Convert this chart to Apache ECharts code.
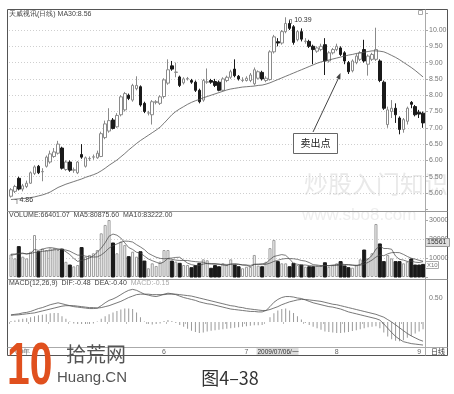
<!DOCTYPE html>
<html><head><meta charset="utf-8">
<script src="https://cdn.jsdelivr.net/npm/echarts/dist/echarts.min.js"></script>
<style>html,body{margin:0;padding:0;background:#fff}#c{width:454px;height:394px}</style>
</head><body><div id="c"></div>
<script>
// ---------- data ----------
const openP  = [4.90,5.05,5.45,5.12,5.20,5.30,5.60,5.82,5.65,5.82,5.95,6.12,6.22,6.38,5.72,5.95,5.70,5.62,6.18,5.82,6.05,6.10,6.08,6.12,6.70,6.90,7.24,7.03,7.40,7.55,8.00,7.85,8.20,8.26,7.75,7.45,7.40,7.78,7.75,7.96,8.37,8.90,8.70,8.56,8.38,8.50,8.45,8.40,8.15,7.85,8.40,8.45,8.42,8.40,8.15,8.45,8.55,8.80,8.58,8.45,8.45,8.45,8.35,8.52,8.70,8.45,8.48,9.33,9.64,9.60,9.95,10.20,10.10,9.70,9.95,9.65,9.65,9.50,9.35,9.40,9.55,9.05,9.30,9.40,9.45,9.30,9.00,8.75,9.00,9.10,9.40,8.95,9.10,9.10,9.05,8.40,7.10,7.50,7.60,7.30,6.95,7.20,7.78,7.65,7.48,7.45];
const closeP = [5.10,5.20,5.12,5.22,5.30,5.62,5.80,5.62,5.66,6.10,6.20,6.26,6.50,5.76,5.95,5.70,5.71,5.95,6.10,6.08,6.06,6.11,6.22,6.82,7.12,7.22,6.98,7.38,7.95,8.05,7.90,8.30,8.30,7.70,7.50,7.46,7.80,7.80,7.95,8.47,8.78,8.80,8.71,8.30,8.50,8.51,8.40,8.15,7.80,8.45,8.41,8.40,8.30,8.15,8.50,8.55,8.72,8.60,8.50,8.46,8.52,8.62,8.78,8.72,8.50,8.52,9.33,9.79,9.60,9.95,10.20,10.05,9.62,9.95,9.72,9.66,9.50,9.40,9.45,9.50,9.05,9.30,9.40,9.50,9.25,9.05,8.72,9.05,9.20,9.30,9.05,9.20,9.25,9.40,8.45,7.60,7.55,7.60,7.40,6.95,7.25,7.60,7.72,7.40,7.42,7.15];
const lowP   = [4.86,5.00,5.08,5.05,5.15,5.28,5.55,5.58,5.36,5.78,5.90,6.08,6.18,5.72,5.68,5.65,5.62,5.58,6.05,5.78,5.98,6.02,6.05,6.10,6.65,6.85,6.95,7.00,7.35,7.50,7.85,7.80,8.15,7.65,7.45,7.38,7.10,7.72,7.70,7.90,8.32,8.75,8.55,8.25,8.33,8.45,8.35,8.10,7.75,7.80,8.35,8.35,8.25,8.12,8.12,8.40,8.50,8.55,8.45,8.40,8.42,8.40,8.30,8.48,8.45,8.40,8.45,9.28,9.50,9.55,9.90,10.00,9.55,9.65,9.65,9.58,9.45,8.95,9.30,9.35,8.62,9.00,9.25,9.35,9.20,8.95,8.65,8.70,8.95,9.05,9.00,8.60,9.05,9.05,8.40,7.55,7.00,7.30,7.15,6.80,6.85,7.10,7.60,7.35,7.30,7.00];
const highP  = [5.15,5.25,5.50,5.28,5.38,5.66,5.85,5.86,5.76,6.15,6.30,6.38,6.60,6.42,6.00,6.00,5.78,5.98,6.50,6.12,6.12,6.18,6.30,6.88,7.22,7.60,7.30,7.45,8.00,8.10,8.05,8.35,8.58,8.30,7.80,7.52,7.85,7.85,8.00,8.52,9.10,9.05,9.00,8.60,8.55,8.56,8.50,8.45,8.20,8.50,8.82,8.50,8.50,8.45,8.55,8.60,8.78,9.10,8.62,8.55,8.58,8.68,8.85,8.76,8.75,8.58,9.38,9.85,9.75,10.00,10.39,10.30,10.15,10.00,10.05,9.75,9.70,9.55,9.50,9.58,9.75,9.35,9.45,9.58,9.50,9.35,9.05,9.10,9.28,9.35,9.70,9.25,9.30,10.07,9.10,8.45,7.65,7.85,7.75,7.35,7.30,7.65,7.82,7.70,7.55,7.50];
const ma30   = [4.80,4.81,4.82,4.83,4.84,4.86,4.88,4.91,4.94,4.98,5.03,5.10,5.17,5.22,5.27,5.31,5.35,5.39,5.43,5.48,5.52,5.56,5.61,5.68,5.76,5.85,5.93,6.01,6.11,6.21,6.32,6.42,6.52,6.61,6.69,6.77,6.85,6.93,7.02,7.14,7.27,7.40,7.50,7.58,7.65,7.72,7.78,7.83,7.87,7.92,7.96,8.00,8.04,8.08,8.12,8.16,8.19,8.21,8.23,8.25,8.26,8.27,8.28,8.30,8.31,8.34,8.38,8.43,8.48,8.53,8.58,8.63,8.68,8.73,8.78,8.83,8.88,8.93,8.98,9.02,9.05,9.08,9.11,9.14,9.17,9.20,9.23,9.25,9.28,9.30,9.32,9.34,9.36,9.36,9.35,9.33,9.28,9.22,9.16,9.09,9.01,8.93,8.85,8.76,8.66,8.56];
const volume = [11900,9800,16000,10700,9800,13300,22100,13300,15000,14200,15100,15100,14200,14700,8000,6300,5600,6300,15500,10700,11600,12500,14200,23000,27400,30000,17900,12500,18600,16800,10700,13300,10700,13300,8400,4600,7200,5800,8100,14200,14200,8400,8100,7200,6300,6300,4900,6000,7200,9300,8800,4600,6000,5400,7200,6300,9300,6300,5400,4600,5400,5400,11600,6000,5400,8000,15200,19500,8100,7200,7200,5400,7200,6300,6300,5400,5400,5400,6000,6000,7500,5400,6300,7200,8100,5800,4900,4900,6300,9300,14200,9800,12500,27900,17400,8100,11600,9800,8100,8100,7200,8100,9500,6300,6300,6640];
const volMa5 = [11500,11800,12500,12600,12000,12500,14500,14000,14600,15200,15500,15200,14800,14600,13300,11800,9800,8200,8800,9200,10000,11200,13000,15200,18000,21500,22600,22000,20500,18000,15500,14500,13000,12600,11000,9500,8600,7800,7000,8000,9800,10000,10300,10400,8800,7300,6500,6100,6100,6800,7200,7100,7100,6800,6300,6000,6800,7000,6800,6300,6200,5400,6600,6800,7000,7300,9200,10800,11300,11800,11400,9500,7100,6700,6300,6300,6000,5800,5700,5600,6000,6000,6300,6500,6900,6600,6500,6200,5900,6600,8000,9500,11300,14700,16300,15000,15000,14600,11000,9300,8900,8200,8400,7800,7600,8088];
const volMa10 = [12000,12100,12200,12300,12300,12400,12900,13200,13500,13700,13900,14300,14400,14500,14200,13600,12500,11500,11500,11000,10600,10500,10600,11600,13200,15200,16500,17400,18300,18900,18800,18400,17000,15800,14400,12500,11400,10400,9800,9600,9700,9300,8900,8700,8700,8700,8300,8100,7900,7800,7000,6800,6700,6700,6700,6600,6700,6700,6600,6400,6300,6100,6700,6600,6500,6700,7300,8200,8800,9400,9700,9700,9600,9300,8700,8400,7600,6500,6300,6000,6100,5900,6000,6100,6300,6400,6400,6300,6200,6200,6800,7700,8900,10500,11600,11200,12200,12800,12900,12800,11900,10800,9900,9400,8800,8322];
const dif = [0.15,0.16,0.17,0.19,0.20,0.22,0.25,0.28,0.30,0.33,0.36,0.38,0.40,0.38,0.36,0.34,0.32,0.31,0.30,0.29,0.28,0.28,0.29,0.34,0.40,0.45,0.48,0.52,0.57,0.62,0.66,0.68,0.66,0.62,0.58,0.56,0.54,0.53,0.55,0.58,0.60,0.59,0.57,0.54,0.51,0.49,0.47,0.45,0.42,0.40,0.38,0.37,0.35,0.33,0.31,0.29,0.27,0.26,0.25,0.24,0.23,0.22,0.22,0.21,0.21,0.24,0.32,0.41,0.47,0.51,0.53,0.53,0.52,0.50,0.49,0.46,0.43,0.40,0.38,0.36,0.34,0.32,0.31,0.29,0.27,0.24,0.21,0.19,0.17,0.15,0.13,0.11,0.09,0.07,0.04,-0.04,-0.13,-0.22,-0.30,-0.36,-0.41,-0.43,-0.45,-0.46,-0.47,-0.48];
const dea = [0.14,0.145,0.15,0.16,0.17,0.18,0.19,0.21,0.23,0.25,0.27,0.29,0.31,0.33,0.34,0.34,0.34,0.33,0.32,0.31,0.30,0.30,0.29,0.30,0.32,0.34,0.37,0.40,0.43,0.47,0.51,0.54,0.57,0.58,0.58,0.58,0.57,0.57,0.57,0.57,0.58,0.58,0.58,0.57,0.56,0.55,0.54,0.52,0.50,0.48,0.46,0.44,0.42,0.40,0.38,0.36,0.34,0.33,0.31,0.30,0.28,0.27,0.26,0.25,0.24,0.24,0.26,0.29,0.32,0.36,0.39,0.42,0.44,0.46,0.47,0.47,0.46,0.45,0.44,0.43,0.41,0.39,0.37,0.36,0.34,0.32,0.30,0.28,0.26,0.24,0.22,0.20,0.18,0.16,0.13,0.10,0.05,0.00,-0.06,-0.12,-0.18,-0.24,-0.29,-0.33,-0.37,-0.40];
const macdHist = [0.02,0.03,0.05,0.07,0.08,0.10,0.12,0.14,0.15,0.16,0.18,0.19,0.19,0.12,0.07,0.01,-0.03,-0.04,-0.04,-0.04,-0.04,-0.03,0.01,0.07,0.12,0.16,0.20,0.23,0.26,0.28,0.28,0.27,0.20,0.10,0.01,-0.04,-0.05,-0.04,-0.03,0.02,0.04,0.02,-0.02,-0.06,-0.10,-0.14,-0.18,-0.21,-0.23,-0.22,-0.20,-0.18,-0.17,-0.16,-0.15,-0.14,-0.13,-0.12,-0.11,-0.10,-0.09,-0.08,-0.07,-0.07,-0.06,0.00,0.10,0.18,0.24,0.27,0.28,0.24,0.19,0.12,0.05,-0.02,-0.06,-0.10,-0.13,-0.16,-0.20,-0.21,-0.22,-0.23,-0.23,-0.22,-0.21,-0.19,-0.17,-0.15,-0.13,-0.11,-0.10,-0.09,-0.13,-0.22,-0.30,-0.36,-0.39,-0.40,-0.38,-0.33,-0.29,-0.24,-0.20,-0.15];
const monthTickIdx  = [3, 39, 60, 83, 104];
const monthTickText = ['09年', '6', '7', '8', '9'];
const priceTicks = [5, 5.5, 6, 6.5, 7, 7.5, 8, 8.5, 9, 9.5, 10];
const volTicks = [10000, 20000, 30000];
const macdTicks = [0.5];

// ---------- build ----------
const N = openP.length;
const cats = Array.from({length: N}, (_, i) => String(i));
const candles = openP.map((o, i) => [o, closeP[i], lowP[i], highP[i]]);
const volItems = volume.map((v, i) => {
  const down = closeP[i] < openP[i];
  return { value: v, itemStyle: down ? {color: '#1a1a1a', borderColor: '#1a1a1a'} : {color: '#fff', borderColor: '#9a9a9a', borderWidth: 1} };
});
const F = 'Liberation Sans, Arial, sans-serif';
const CJK = 'Noto Sans CJK SC, sans-serif';
const lblStyle = {fontSize: 7, color: '#777', fontFamily: F, margin: 4};
const dash = {show: true, lineStyle: {color: '#cfcfcf', type: [1, 2], width: 1}, showMinLine: false, showMaxLine: false};

function catAxis(gi, showLabels) {
  return {
    type: 'category', gridIndex: gi, data: cats, boundaryGap: true,
    axisLine: {show: false}, splitLine: {show: false},
    axisTick: showLabels ? {show: true, interval: (i) => i % 5 === 0, length: 2, lineStyle: {color: '#bbb'}} : {show: false},
    axisLabel: showLabels ? {
      show: true, interval: 0, fontSize: 7, color: '#666', fontFamily: F, margin: 3,
      formatter: (v, i) => { const k = monthTickIdx.indexOf(i); return k >= 0 ? monthTickText[k] : ''; }
    } : {show: false}
  };
}

const chart = echarts.init(document.getElementById('c'), null, {renderer: 'canvas'});
chart.setOption({
  animation: false,
  backgroundColor: '#fff',
  grid: [
    {left: 9, width: 416, top: 13.7, height: 195.6, outerBoundsMode: 'none'},
    {left: 9, width: 416, top: 220, height: 57, outerBoundsMode: 'none'},
    {left: 9, width: 416, top: 274, height: 72, outerBoundsMode: 'none'}
  ],
  xAxis: [catAxis(0, false), catAxis(1, false), catAxis(2, true)],
  yAxis: [
    {type: 'value', gridIndex: 0, position: 'right', min: 4.5, max: 10.5, interval: 0.5,
     axisLine: {show: false}, axisTick: {show: true, length: 3, lineStyle: {color: '#aaa'}},
     axisLabel: Object.assign({}, lblStyle, {formatter: v => priceTicks.some(t => Math.abs(t - v) < 1e-6) ? v.toFixed(2) : ''}),
     splitLine: dash},
    {type: 'value', gridIndex: 1, position: 'right', min: 0, max: 30000, interval: 10000,
     axisLine: {show: false}, axisTick: {show: true, length: 3, lineStyle: {color: '#aaa'}},
     axisLabel: Object.assign({}, lblStyle, {formatter: v => volTicks.indexOf(v) >= 0 ? String(v) : ''}),
     splitLine: dash},
    {type: 'value', gridIndex: 2, position: 'right', min: -0.5, max: 1.0, interval: 0.5,
     axisLine: {show: false}, axisTick: {show: false},
     axisLabel: Object.assign({}, lblStyle, {formatter: v => macdTicks.some(t => Math.abs(t - v) < 1e-6) ? v.toFixed(2) : ''}),
     splitLine: {show: false}}
  ],
  series: [
    {type: 'candlestick', xAxisIndex: 0, yAxisIndex: 0, data: candles, barWidth: 3,
     itemStyle: {color: '#ffffff', color0: '#1a1a1a', borderColor: '#8a8a8a', borderColor0: '#1a1a1a', borderWidth: 1},
     markPoint: {
       symbol: 'circle', symbolSize: 1, itemStyle: {color: 'rgba(0,0,0,0)'},
       label: {show: true, position: 'right', distance: 3, fontSize: 7, color: '#333', fontFamily: F,
               formatter: p => '\u2510' + Number(p.value).toFixed(2)},
       data: [
         {type: 'max', valueDim: 'highest', label: {offset: [0, 3]}},
         {type: 'min', valueDim: 'lowest', label: {offset: [0, 2]}}
       ]
     }},
    {type: 'line', xAxisIndex: 0, yAxisIndex: 0, data: ma30, symbol: 'none', lineStyle: {color: '#555', width: 0.8}, z: 3},
    {type: 'bar', xAxisIndex: 1, yAxisIndex: 1, data: volItems, barWidth: 3},
    {type: 'line', xAxisIndex: 1, yAxisIndex: 1, data: volMa5, symbol: 'none', lineStyle: {color: '#444', width: 0.7}, z: 3},
    {type: 'line', xAxisIndex: 1, yAxisIndex: 1, data: volMa10, symbol: 'none', lineStyle: {color: '#444', width: 0.7}, z: 3},
    {type: 'bar', xAxisIndex: 2, yAxisIndex: 2, data: macdHist, barWidth: 1, itemStyle: {color: '#9a9a9a'}},
    {type: 'line', xAxisIndex: 2, yAxisIndex: 2, data: dif, symbol: 'none', clip: false, lineStyle: {color: '#555', width: 0.8}, z: 3},
    {type: 'line', xAxisIndex: 2, yAxisIndex: 2, data: dea, symbol: 'none', clip: false, lineStyle: {color: '#555', width: 0.8}, z: 3}
  ],
  graphic: [
    // watermarks
    {type: 'text', z: 0, style: {text: '炒股入门知识', x: 304, y: 184, fill: '#e9e9e9', font: '24px ' + CJK, verticalAlign: 'middle', textVerticalAlign: 'middle'}},
    {type: 'text', z: 0, style: {text: 'www.sbo8.com', x: 302, y: 215, fill: '#eeeeee', font: '17px ' + F, verticalAlign: 'middle', textVerticalAlign: 'middle'}},
    // frame and separators
    {type: 'rect', z: 10, shape: {x: 7.5, y: 9.5, width: 440, height: 346}, style: {fill: null, stroke: '#555', lineWidth: 1}},
    {type: 'line', z: 10, shape: {x1: 425.5, y1: 9.5, x2: 425.5, y2: 355.5}, style: {stroke: '#aaa', lineWidth: 1}},
    {type: 'line', z: 10, shape: {x1: 7.5, y1: 211.5, x2: 447.5, y2: 211.5}, style: {stroke: '#999', lineWidth: 1}},
    {type: 'line', z: 10, shape: {x1: 7.5, y1: 279.5, x2: 447.5, y2: 279.5}, style: {stroke: '#999', lineWidth: 1}},
    {type: 'line', z: 10, shape: {x1: 7.5, y1: 347.5, x2: 447.5, y2: 347.5}, style: {stroke: '#aaa', lineWidth: 1}},
    {type: 'rect', z: 10, shape: {x: 418.5, y: 10.5, width: 4, height: 4}, style: {fill: null, stroke: '#aaa', lineWidth: 1}},
    // panel titles
    {type: 'text', z: 10, style: {text: '天威视讯(日线) MA30:8.56', x: 9, y: 14, fill: '#444', font: '7px ' + F, verticalAlign: 'middle', textVerticalAlign: 'middle'}},
    {type: 'text', z: 10, style: {text: 'VOLUME:66401.07  MA5:80875.60  MA10:83222.00', x: 9, y: 215.5, fill: '#444', font: '7px ' + F, verticalAlign: 'middle', textVerticalAlign: 'middle'}},
    {type: 'text', z: 10, style: {text: '{a|MACD(12,26,9)  DIF:-0.48  DEA:-0.40}  {b|MACD:-0.15}', x: 9, y: 283.5, font: '7px ' + F, verticalAlign: 'middle', textVerticalAlign: 'middle',
      rich: {a: {fill: '#444', fontSize: 7, fontFamily: F}, b: {fill: '#aaa', fontSize: 7, fontFamily: F}}}},
    // axis side boxes
    {type: 'rect', z: 11, shape: {x: 425.5, y: 238.5, width: 24, height: 8}, style: {fill: '#dedede', stroke: '#999', lineWidth: 1}},
    {type: 'text', z: 12, style: {text: '15561', x: 427, y: 242.5, fill: '#333', font: '7px ' + F, verticalAlign: 'middle', textVerticalAlign: 'middle'}},
    {type: 'rect', z: 11, shape: {x: 425.5, y: 261.5, width: 13, height: 7}, style: {fill: '#fff', stroke: '#aaa', lineWidth: 1}},
    {type: 'text', z: 12, style: {text: 'X10', x: 427, y: 265, fill: '#777', font: '6px ' + F, verticalAlign: 'middle', textVerticalAlign: 'middle'}},
    {type: 'rect', z: 11, shape: {x: 256.5, y: 348, width: 42, height: 7}, style: {fill: '#dddddd', stroke: null}},
    {type: 'text', z: 12, style: {text: '2009/07/06/一', x: 257.5, y: 351.8, fill: '#333', font: '6.5px ' + F, verticalAlign: 'middle', textVerticalAlign: 'middle'}},
    {type: 'text', z: 12, style: {text: '日线', x: 431, y: 351.8, fill: '#333', font: '7px ' + CJK, verticalAlign: 'middle', textVerticalAlign: 'middle'}},
    // annotation
    {type: 'line', z: 12, shape: {x1: 313, y1: 132, x2: 339.5, y2: 76}, style: {stroke: '#444', lineWidth: 1}},
    {type: 'polygon', z: 12, shape: {points: [[340.5, 73], [340.3, 79.6], [336.2, 77.5]]}, style: {fill: '#444'}},
    {type: 'rect', z: 12, shape: {x: 293.5, y: 133.5, width: 44, height: 20}, style: {fill: '#fff', stroke: '#666', lineWidth: 1}},
    {type: 'text', z: 13, style: {text: '卖出点', x: 315.5, y: 143.5, fill: '#222', font: '10px ' + CJK, align: 'center', textAlign: 'center', verticalAlign: 'middle', textVerticalAlign: 'middle'}},
    // logo + caption
    {type: 'text', z: 20, scaleX: 0.68, x: 7, y: 0, style: {text: '10', x: 0, y: 367, fill: '#e0501e', font: 'bold 60px ' + F, verticalAlign: 'middle', textVerticalAlign: 'middle'}},
    {type: 'text', z: 20, style: {text: '拾荒网', x: 66, y: 354, fill: '#555', font: '20px ' + CJK, verticalAlign: 'middle', textVerticalAlign: 'middle'}},
    {type: 'text', z: 20, style: {text: 'Huang.CN', x: 57, y: 378, fill: '#555', font: '15px ' + F, verticalAlign: 'middle', textVerticalAlign: 'middle'}},
    {type: 'text', z: 20, style: {text: '图4–38', x: 230, y: 378, fill: '#333', font: '18px ' + CJK, align: 'center', textAlign: 'center', verticalAlign: 'middle', textVerticalAlign: 'middle'}}
  ]
});
</script>
</body></html>
